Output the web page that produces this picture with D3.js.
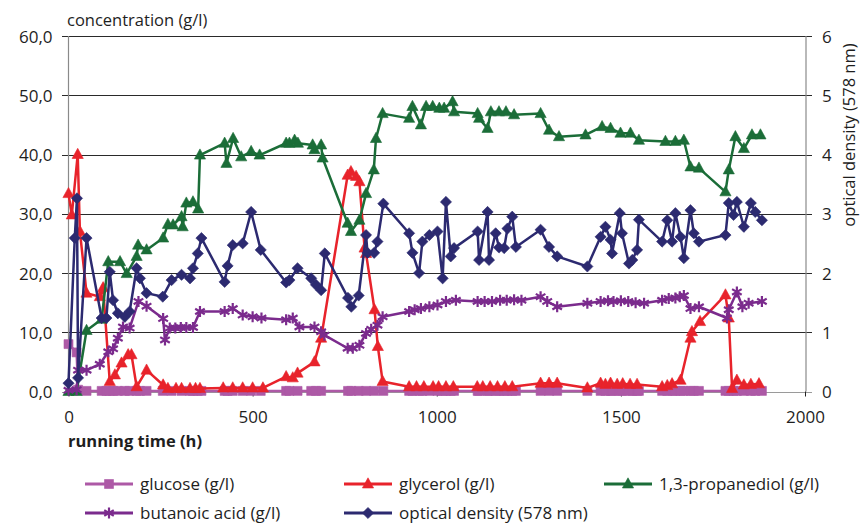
<!DOCTYPE html>
<html><head><meta charset="utf-8">
<script src="https://cdn.jsdelivr.net/npm/d3@7"></script>
<style>
body{margin:0;background:#fff}
svg{display:block}
text{font-family:"Open Sans",sans-serif;fill:#1e1e1e}
</style>
</head><body>
<svg id="chart" width="860" height="524"></svg>
<script>
// ---------- data (time in h, value) ----------
const xTicks = [0, 500, 1000, 1500, 2000];
const leftTicks = [0, 10, 20, 30, 40, 50, 60];
const leftTickLabels = ["0,0", "10,0", "20,0", "30,0", "40,0", "50,0", "60,0"];
const rightTicks = [0, 1, 2, 3, 4, 5, 6];
const rightTickLabels = ["0", "1", "2", "3", "4", "5", "6"];

const glucose = [[0,8.0],[22,6.6],[26,0.3],[49,0.1],[90,0.1],[103,0.1],[112,0.1],[121,0.1],[134,0.1],[153,0.1],[166,0.1],[185,0.1],[194,0.1],[212,0.1],[256,0.1],[280,0.1],[307,0.1],[330,0.1],[338,0.1],[351,0.1],[361,0.1],[424,0.1],[432,0.1],[446,0.1],[473,0.1],[496,0.1],[522,0.1],[591,0.1],[600,0.1],[622,0.1],[659,0.1],[672,0.1],[686,0.1],[759,0.1],[768,0.1],[788,0.1],[808,0.1],[830,0.1],[855,0.1],[925,0.1],[934,0.1],[952,0.1],[961,0.1],[980,0.1],[1002,0.1],[1016,0.1],[1025,0.1],[1038,0.1],[1047,0.1],[1111,0.1],[1115,0.1],[1138,0.1],[1142,0.1],[1160,0.1],[1169,0.1],[1183,0.1],[1192,0.1],[1205,0.1],[1215,0.1],[1282,0.1],[1305,0.1],[1327,0.1],[1409,0.1],[1445,0.1],[1458,0.1],[1472,0.1],[1476,0.1],[1497,0.1],[1503,0.1],[1522,0.1],[1531,0.1],[1544,0.1],[1549,0.1],[1612,0.1],[1626,0.1],[1639,0.1],[1648,0.1],[1662,0.1],[1671,0.1],[1689,0.1],[1698,0.1],[1712,0.1],[1784,0.1],[1793,0.1],[1806,0.1],[1815,0.1],[1834,0.1],[1853,0.1],[1865,0.1],[1883,0.1]];

const glycerol = [[0,33.4],[9,29.8],[25,40.0],[31,27.0],[49,16.6],[85,16.0],[94,17.5],[112,1.7],[126,2.8],[144,4.8],[162,6.2],[171,6.2],[185,0.8],[212,3.6],[257,1.1],[270,0.5],[292,0.5],[307,0.5],[330,0.5],[345,0.5],[357,0.5],[420,0.6],[446,0.6],[473,0.6],[500,0.6],[528,0.6],[591,2.5],[609,2.3],[622,3.1],[668,5.0],[686,9.0],[758,36.5],[767,37.1],[781,36.3],[790,35.4],[804,24.2],[808,23.3],[831,13.8],[840,7.6],[853,1.7],[925,0.8],[945,0.8],[965,0.8],[990,0.8],[1005,0.8],[1025,0.8],[1045,0.8],[1110,0.8],[1125,0.8],[1145,0.8],[1165,0.8],[1185,0.8],[1205,0.8],[1282,1.4],[1305,1.4],[1327,1.4],[1409,0.6],[1445,1.4],[1458,1.2],[1472,1.4],[1490,1.2],[1505,1.3],[1525,1.2],[1544,1.2],[1612,0.8],[1626,1.0],[1639,1.3],[1662,1.9],[1689,9.0],[1693,10.1],[1715,11.8],[1784,16.3],[1793,12.4],[1802,0.5],[1815,1.9],[1834,1.1],[1853,1.2],[1875,1.3]];

const propanediol = [[0,0.0],[22,0.0],[49,10.3],[90,12.2],[108,21.9],[140,21.9],[158,19.9],[185,22.8],[189,24.7],[212,23.9],[257,25.9],[270,28.2],[284,28.1],[307,29.5],[310,27.8],[320,31.8],[338,32.0],[352,30.8],[357,39.9],[424,41.9],[429,38.5],[447,42.7],[469,39.6],[496,40.5],[519,39.9],[591,41.9],[600,41.9],[614,42.4],[623,41.9],[663,41.6],[668,40.8],[686,41.6],[690,39.4],[758,28.4],[767,27.0],[790,28.9],[808,33.4],[829,37.4],[835,42.7],[853,46.9],[925,46.1],[934,48.1],[957,45.0],[971,48.1],[989,48.1],[1007,47.8],[1020,47.8],[1043,48.9],[1047,47.2],[1111,46.9],[1115,46.1],[1138,44.4],[1147,47.2],[1169,47.2],[1188,47.2],[1210,46.7],[1282,46.9],[1305,44.1],[1332,43.0],[1404,43.3],[1449,44.7],[1472,44.4],[1499,43.6],[1526,43.6],[1549,42.4],[1621,42.2],[1648,42.2],[1671,42.4],[1689,37.9],[1712,37.7],[1784,33.7],[1793,37.4],[1811,43.0],[1834,41.0],[1856,43.3],[1879,43.3]];

const butanoic = [[0,0.2],[22,0.3],[26,3.6],[49,3.6],[85,4.6],[108,6.7],[121,7.2],[134,9.0],[148,10.9],[166,10.7],[190,15.2],[212,14.4],[257,12.3],[262,8.7],[275,10.7],[290,10.7],[305,10.8],[320,10.8],[338,10.8],[357,13.5],[424,13.5],[446,14.0],[473,12.9],[500,12.6],[524,12.4],[591,12.1],[609,12.4],[627,10.9],[668,10.9],[686,10.1],[695,9.5],[758,7.3],[772,7.3],[790,7.8],[808,9.8],[822,10.5],[839,11.2],[853,12.6],[925,13.5],[940,13.8],[957,14.0],[980,14.3],[1002,14.6],[1025,15.2],[1052,15.4],[1111,15.2],[1130,15.2],[1150,15.2],[1172,15.4],[1190,15.4],[1210,15.5],[1230,15.4],[1282,16.0],[1300,15.2],[1327,14.3],[1409,14.9],[1445,15.2],[1465,15.3],[1480,15.2],[1500,15.3],[1520,15.2],[1540,15.0],[1563,14.9],[1612,15.4],[1630,15.7],[1648,15.8],[1660,16.0],[1671,16.2],[1689,14.0],[1712,14.3],[1788,12.4],[1793,13.8],[1815,16.8],[1830,14.3],[1847,14.9],[1883,15.2]];

const opticalDensity = [[0,0.14],[17,2.59],[23,3.26],[26,0.23],[49,2.59],[90,1.24],[103,1.24],[112,2.02],[121,1.54],[134,1.32],[153,1.26],[166,1.35],[185,2.08],[194,1.91],[212,1.66],[256,1.60],[280,1.88],[307,1.97],[330,1.91],[338,2.08],[351,2.33],[361,2.59],[424,1.85],[432,2.12],[446,2.47],[473,2.50],[496,3.03],[522,2.39],[591,1.84],[600,1.88],[622,2.08],[659,1.91],[672,1.80],[686,1.71],[696,2.33],[759,1.58],[768,1.43],[788,1.62],[808,2.64],[812,2.34],[830,2.34],[839,2.53],[855,3.17],[925,2.67],[934,2.34],[952,2.00],[961,2.53],[980,2.64],[1002,2.70],[1016,1.91],[1025,3.20],[1038,2.28],[1047,2.42],[1111,2.70],[1115,2.22],[1138,3.03],[1142,2.22],[1160,2.67],[1169,2.43],[1183,2.42],[1192,2.75],[1205,2.95],[1215,2.44],[1282,2.73],[1305,2.44],[1327,2.28],[1409,2.11],[1445,2.61],[1458,2.78],[1472,2.56],[1476,2.33],[1497,3.01],[1503,2.67],[1522,2.16],[1531,2.22],[1544,2.39],[1549,2.90],[1612,2.53],[1626,2.89],[1639,2.53],[1648,3.01],[1662,2.61],[1671,2.25],[1689,3.06],[1698,2.67],[1712,2.53],[1784,2.64],[1793,3.18],[1806,2.98],[1815,3.20],[1834,2.78],[1853,3.18],[1865,3.03],[1883,2.89]];

const seriesNames = ["glucose (g/l)", "glycerol (g/l)", "1,3-propanediol (g/l)", "butanoic acid (g/l)", "optical density (578 nm)"];

// ---------- drawing ----------
const svg = d3.select("#chart");
const L = 68.5, R = 805, T = 36, B = 391.5;
const x = d3.scaleLinear().domain([0, 2000]).range([L, R]);
const yL = d3.scaleLinear().domain([0, 60]).range([B, T]);
const yR = d3.scaleLinear().domain([0, 6]).range([B, T]);

const colors = {
  glucose: "#ad59a6", glycerol: "#e8232b", propanediol: "#1b6d38",
  butanoic: "#7b2b8d", od: "#2c2a70"
};

const shapes = {
  square: "M-4.5,-4.5H4.5V4.5H-4.5Z",
  triangle: "M0,-6.2L5.6,4L-5.6,4Z",
  diamond: "M0,-5.6L5.6,0L0,5.6L-5.6,0Z",
  star: "M0,-5.5V5.5M-4.8,-2.8L4.8,2.8M-4.8,2.8L4.8,-2.8"
};

// gridlines
const grid = svg.append("g");
leftTicks.forEach(v => {
  const yy = Math.round(yL(v)) + 0.5;
  grid.append("line").attr("x1", 62).attr("x2", 812).attr("y1", yy).attr("y2", yy)
    .attr("stroke", v === 0 ? "#9a9a9a" : "#2a2a2a").attr("stroke-width", 1.2);
});
// axes lines
svg.append("line").attr("x1", 68.5).attr("x2", 68.5).attr("y1", T).attr("y2", B)
  .attr("stroke", "#8a8a8a").attr("stroke-width", 1.2);
svg.append("line").attr("x1", 806).attr("x2", 806).attr("y1", T).attr("y2", B)
  .attr("stroke", "#8a8a8a").attr("stroke-width", 1.2);

// left axis
const axL = d3.axisLeft(yL).tickValues(leftTicks).tickSize(0).tickPadding(16)
  .tickFormat((d, i) => leftTickLabels[i]);
const gL = svg.append("g").attr("transform", `translate(${L},0)`).call(axL);
gL.select(".domain").remove();
gL.selectAll("text").attr("font-size", 17).attr("font-family", "Open Sans").attr("fill", "#1e1e1e").attr("dy", "0.36em");

// right axis
const axR = d3.axisRight(yR).tickValues(rightTicks).tickSize(0).tickPadding(16)
  .tickFormat((d, i) => rightTickLabels[i]);
const gR = svg.append("g").attr("transform", `translate(806,0)`).call(axR);
gR.select(".domain").remove();
gR.selectAll("text").attr("font-size", 17).attr("font-family", "Open Sans").attr("fill", "#1e1e1e").attr("dy", "0.36em");

// bottom axis
const axB = d3.axisBottom(x).tickValues(xTicks).tickSize(5).tickPadding(14).tickFormat(d3.format("d"));
const gB = svg.append("g").attr("transform", `translate(0,${B})`).call(axB);
gB.select(".domain").remove();
gB.selectAll("line").attr("stroke", "#222");
gB.selectAll("text").attr("font-size", 17).attr("font-family", "Open Sans").attr("fill", "#1e1e1e");

// titles
svg.append("text").attr("x", 67).attr("y", 26).attr("font-size", 16.5).text("concentration (g/l)");
svg.append("text").attr("x", 68).attr("y", 447).attr("font-size", 16.5).attr("font-weight", "bold").text("running time (h)");
svg.append("text").attr("transform", "translate(855,135) rotate(-90)").attr("text-anchor", "middle")
  .attr("font-size", 16.5).text("optical density (578 nm)");

// series
function drawSeries(data, yScale, color, shape, isStroke) {
  const g = svg.append("g");
  const line = d3.line().x(d => x(d[0])).y(d => yScale(d[1]));
  g.append("path").datum(data).attr("d", line).attr("fill", "none")
    .attr("stroke", color).attr("stroke-width", 2.5).attr("stroke-linejoin", "round");
  g.selectAll("path.m").data(data).join("path").attr("class", "m")
    .attr("transform", d => `translate(${x(d[0])},${yScale(d[1])})`)
    .attr("d", shapes[shape])
    .attr("fill", isStroke ? "none" : color)
    .attr("stroke", color).attr("stroke-width", isStroke ? 2.2 : 0.6);
}
drawSeries(glucose, yL, colors.glucose, "square", false);
drawSeries(glycerol, yL, colors.glycerol, "triangle", false);
drawSeries(propanediol, yL, colors.propanediol, "triangle", false);
drawSeries(butanoic, yL, colors.butanoic, "star", true);
drawSeries(opticalDensity, yR, colors.od, "diamond", false);

// legend
const legendItems = [
  {name: seriesNames[0], color: colors.glucose, shape: "square", stroke: false, x: 85, y: 484},
  {name: seriesNames[1], color: colors.glycerol, shape: "triangle", stroke: false, x: 344, y: 484},
  {name: seriesNames[2], color: colors.propanediol, shape: "triangle", stroke: false, x: 604, y: 484},
  {name: seriesNames[3], color: colors.butanoic, shape: "star", stroke: true, x: 85, y: 513},
  {name: seriesNames[4], color: colors.od, shape: "diamond", stroke: false, x: 344, y: 513}
];
const lg = svg.append("g");
legendItems.forEach(it => {
  lg.append("line").attr("x1", it.x).attr("x2", it.x + 48).attr("y1", it.y).attr("y2", it.y)
    .attr("stroke", it.color).attr("stroke-width", 3);
  lg.append("path").attr("transform", `translate(${it.x + 24},${it.y})`).attr("d", shapes[it.shape])
    .attr("fill", it.stroke ? "none" : it.color).attr("stroke", it.color).attr("stroke-width", it.stroke ? 2.2 : 0.6);
  lg.append("text").attr("x", it.x + 55).attr("y", it.y + 5.5).attr("font-size", 17).text(it.name);
});
</script>
</body></html>
